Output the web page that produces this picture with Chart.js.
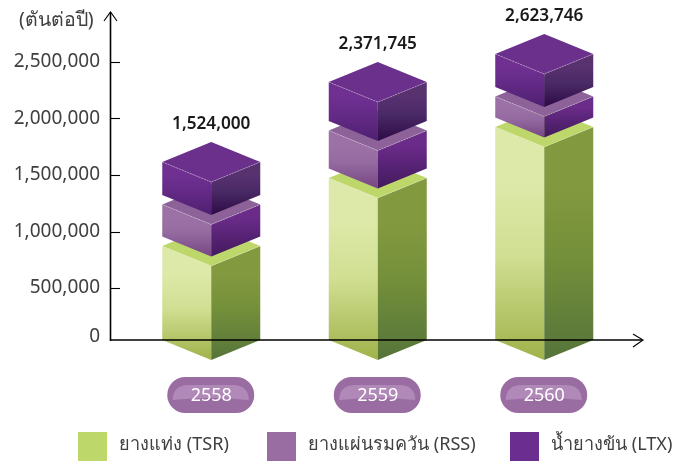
<!DOCTYPE html>
<html><head><meta charset="utf-8">
<style>html,body{margin:0;padding:0;background:#fff}canvas{display:block}</style>
<script src="https://cdn.jsdelivr.net/npm/chart.js@4"></script>
</head><body>
<canvas id="c" width="691" height="464"></canvas>
<script>
const years = ['2558','2559','2560'];
const tsr = [872000,1473000,1925000];
const rss = [283000,336000,186000];
const ltx = [292000,345000,292000];
const totals = ['1,524,000','2,371,745','2,623,746'];
const seriesNames = ['ยางแท่ง (TSR)','ยางแผ่นรมควัน (RSS)','น้ำยางข้น (LTX)'];
const yAxisTitle = '(ตันต่อปี)';
const yTicks = [0,500000,1000000,1500000,2000000,2500000];
const axisBaseValue = 40000;

const FONT = '"Noto Sans", sans-serif';
const depth = 20, gap = 9.5;
const palette = [
 {top:'#bdd76b',lt:'#dce9a8',lm:'#d0df92',lb:'#9fb24a',rt:'#83993f',rm:'#74903a',rb:'#56743a',edge:'rgba(255,255,255,0.22)'},
 {top:'#8c6299',lt:'#9c72a6',lm:'#946aa0',lb:'#764682',rt:'#6b2c89',rm:'#5a2479',rb:'#431a5c',edge:'rgba(255,255,255,0.3)'},
 {top:'#6b2f8c',lt:'#6f3092',lm:'#642a87',lb:'#4e2070',rt:'#58316f',rm:'#4a2a66',rb:'#2c0a45',edge:'rgba(255,255,255,0.3)'}
];
const swatches = ['#bdd76b','#9a6da2','#6b2d8f'];
const legendX = [78,267,510];

function face(ctx,pts,fill){
  ctx.beginPath();pts.forEach((p,i)=>i?ctx.lineTo(p[0],p[1]):ctx.moveTo(p[0],p[1]));ctx.closePath();
  ctx.fillStyle=fill;ctx.fill();
}
function grad(ctx,y0,y1,a,b,c){
  const g=ctx.createLinearGradient(0,y0,0,y1);
  g.addColorStop(0,a);g.addColorStop(0.25,a);g.addColorStop(0.55,b);g.addColorStop(1,c);return g;
}
const cubes = {
  id:'cubes',
  afterDatasetsDraw(chart){
    const ctx=chart.ctx, bottom=chart.scales.y.getPixelForValue(axisBaseValue);
    chart.data.datasets.forEach((d,i)=>{
      const p=palette[i];
      chart.getDatasetMeta(i).data.forEach(el=>{
        const x=el.x, h=el.width/2, shift=gap*i;
        const top=el.y-shift, base=Math.min(el.base,bottom)-shift;
        const L=[x-h,top],R=[x+h,top],F=[x,top+depth],A=[x,top-depth];
        const LB=[x-h,base],RB=[x+h,base],FB=[x,base+depth];
        face(ctx,[L,F,FB,LB],grad(ctx,top,base+depth,p.lt,p.lm,p.lb));
        face(ctx,[F,R,RB,FB],grad(ctx,top,base+depth,p.rt,p.rm,p.rb));
        face(ctx,[L,A,R,F],p.top);
        ctx.save();ctx.strokeStyle=p.edge;ctx.lineWidth=1;ctx.setLineDash([2,1]);
        ctx.beginPath();ctx.moveTo(L[0],L[1]);ctx.lineTo(F[0],F[1]);ctx.lineTo(R[0],R[1]);ctx.stroke();ctx.restore();
      });
    });
    // totals above the stacks
    ctx.save();ctx.fillStyle='#1a1a1a';ctx.font='600 17.2px '+FONT;ctx.textAlign='center';ctx.textBaseline='middle';
    chart.getDatasetMeta(2).data.forEach((el,k)=>{
      ctx.fillText(totals[k],el.x,el.y-gap*2-depth-17.5);
    });
    ctx.restore();
  }
};
const furniture = {
  id:'furniture',
  beforeDraw(chart){
    const ctx=chart.ctx;
    chart.scales.x.ticks.forEach((t,i)=>{
      const cx=chart.scales.x.getPixelForTick(i)-0.5, cy=395;
      ctx.beginPath();ctx.roundRect(cx-43.5,cy-18,87,36,18);ctx.fillStyle='#9a6da2';ctx.fill();
      ctx.beginPath();
      ctx.moveTo(cx-38,cy+5);
      ctx.bezierCurveTo(cx-38,cy-5,cx-32,cy-10,cx-22,cy-10);
      ctx.lineTo(cx+22,cy-10);
      ctx.bezierCurveTo(cx+32,cy-10,cx+38,cy-5,cx+38,cy+5);
      ctx.quadraticCurveTo(cx,cy+1,cx-38,cy+5);
      ctx.closePath();ctx.fillStyle='#b189b9';ctx.fill();
    });
  },
  afterDraw(chart){
    const ctx=chart.ctx, y=chart.scales.y, y0=Math.round(y.getPixelForValue(axisBaseValue));
    ctx.save();ctx.strokeStyle='#000';
    ctx.lineWidth=1.6;
    ctx.beginPath();ctx.moveTo(110.5,y0+1);ctx.lineTo(110.5,12);ctx.stroke();
    ctx.beginPath();ctx.moveTo(110,y0);ctx.lineTo(642,y0);ctx.stroke();
    ctx.lineWidth=1.1;
    ctx.beginPath();ctx.moveTo(104,21);ctx.lineTo(110.5,12);ctx.lineTo(117,21);ctx.stroke();
    ctx.beginPath();ctx.moveTo(633,334);ctx.lineTo(643,340);ctx.lineTo(633,347);ctx.stroke();
    yTicks.filter(v=>v>0).forEach(v=>{
      const p=Math.round(y.getPixelForValue(v))+0.5;
      ctx.beginPath();ctx.moveTo(110,p);ctx.lineTo(120,p);ctx.stroke();
    });
    ctx.fillStyle='#404040';ctx.font='19px '+FONT;ctx.textBaseline='middle';
    ctx.textAlign='right';ctx.fillText('0',100,337);
    ctx.textAlign='left';ctx.font='19.5px '+FONT;ctx.fillText(yAxisTitle,19,20);
    ctx.font='18.1px '+FONT;
    chart.data.datasets.forEach((d,i)=>{
      ctx.fillStyle=swatches[i];ctx.fillRect(legendX[i],432,29,29);
      ctx.fillStyle='#404040';ctx.fillText(d.label,legendX[i]+41,445);
    });
    ctx.restore();
  }
};
new Chart(document.getElementById('c'),{
  type:'bar',
  data:{labels:years,datasets:[
    {label:seriesNames[0],data:tsr},
    {label:seriesNames[1],data:rss},
    {label:seriesNames[2],data:ltx}
  ].map(d=>Object.assign(d,{backgroundColor:'transparent',borderWidth:0,barThickness:98}))},
  plugins:[furniture,cubes],
  options:{
    responsive:false,animation:false,events:[],
    layout:{padding:{top:62,right:63.5,left:0,bottom:0}},
    plugins:{legend:{display:false},tooltip:{enabled:false}},
    scales:{
      x:{stacked:true,grid:{display:false},border:{display:false},
        afterFit:s=>{s.height=119.5;},
        ticks:{padding:33,color:'#fff',font:{size:18,family:FONT},maxRotation:0}},
      y:{stacked:true,min:0,max:2500000,grid:{display:false},border:{display:false},
        afterFit:s=>{s.width=128;},
        afterBuildTicks:s=>{s.ticks=yTicks.map(v=>({value:v}));},
        ticks:{padding:20,color:'#404040',font:{size:19,family:FONT},
          callback:v=>v===0?'':v.toLocaleString('en-US')}}
    }
  }
});
</script>
</body></html>
